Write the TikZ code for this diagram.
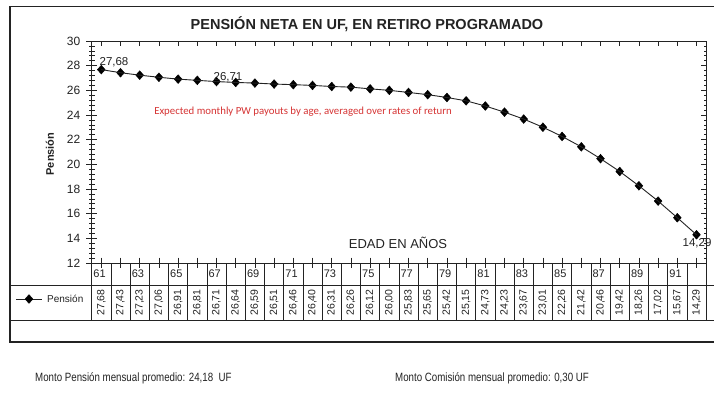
\documentclass[tikz,border=0pt]{standalone}
\usepackage{fontspec}
\setmainfont{Liberation Sans}
\newfontfamily\calibri{Carlito}
\usetikzlibrary{shapes.geometric}
\definecolor{redtxt}{RGB}{214,52,52}
\definecolor{ax}{RGB}{35,35,35}
\begin{document}
\begin{tikzpicture}[x=1pt,y=-1pt,
  mk/.style={diamond, fill=black, draw=black, inner sep=0pt, minimum width=8pt, minimum height=9pt},
  curve/.style={draw=ax, line width=0.9pt},
  axisline/.style={draw=ax, line width=0.9pt},
  tickline/.style={draw=ax, line width=0.7pt},
  tbl/.style={draw=ax, line width=0.7pt},
  framel/.style={draw=ax, line width=1.4pt},
  num/.style={font=\fontsize{12}{13}\selectfont, text=ax, inner sep=0pt},
  agelbl/.style={font=\fontsize{11}{12}\selectfont, text=ax, inner sep=0pt, anchor=west},
  val/.style={font=\fontsize{10.5}{11}\selectfont, text=ax, rotate=90, inner sep=0pt},
  dlbl/.style={font=\fontsize{11.5}{12}\selectfont, text=ax, inner sep=0pt},
  bottomtxt/.style={font=\fontsize{12}{13}\selectfont, text=ax, inner sep=0pt, anchor=west, xscale=0.81}
]
\useasboundingbox (0,0) rectangle (714,392);
\fill[white] (0,0) rectangle (714,392);

% frame
\draw[framel] (720,6.5) -- (10,6.5) -- (10,342) -- (720,342);

% title
\node[font=\bfseries\fontsize{14.5}{16}\selectfont, text=ax] (title) at (367,24) {PENSIÓN NETA EN UF, EN RETIRO PROGRAMADO};

% plot area box
\draw[axisline] (91.7,41) rectangle (706.1,263);

% left and right axis ticks
\foreach \k in {0,...,45}{
  \pgfmathsetmacro\ty{41+\k*0.4*12.333}
  \draw[tickline] (89,\ty) -- (94.5,\ty);
  \draw[tickline] (706.1,\ty) -- (703.5,\ty);
}
\foreach \k in {0,...,9}{
  \pgfmathsetmacro\ty{41+\k*2*12.333}
  \draw[tickline] (86,\ty) -- (97,\ty);
  \draw[tickline] (706.1,\ty) -- (700.5,\ty);
}
% y labels
\foreach \v in {12,14,...,30}{
  \node[num, anchor=east] (y\v) at (80.5,{41+(30-\v)*12.333}) {\v};
}
\node[font=\bfseries\fontsize{11}{12}\selectfont, text=ax, rotate=90] (ytitle) at (50,154) {Pensión};

% top and bottom ticks
\foreach \i in {1,...,32}{
  \pgfmathsetmacro\cx{91.7+19.2*(\i-0.5)}
  \draw[tickline] (\cx,41) -- (\cx,46);
  \draw[tickline] (\cx,257.5) -- (\cx,268);
}

% table lines
\foreach \j in {0,...,32}{
  \pgfmathsetmacro\bx{91.7+19.2*\j}
  \draw[tbl] (\bx,263) -- (\bx,320);
}
\draw[tbl] (10,285) -- (714,285);
\draw[tbl] (10,320) -- (714,320);

% age labels
\foreach \a in {61,63,...,91}{
  \pgfmathsetmacro\lx{91.7+19.2*(\a-61)+1.5}
  \node[agelbl] (age\a) at (\lx,274) {\a};
}

% data
\foreach \v/\s [count=\i] in {27.68/{27,68}, 27.43/{27,43}, 27.23/{27,23}, 27.06/{27,06}, 26.91/{26,91}, 26.81/{26,81}, 26.71/{26,71}, 26.64/{26,64}, 26.59/{26,59}, 26.51/{26,51}, 26.46/{26,46}, 26.40/{26,40}, 26.31/{26,31}, 26.26/{26,26}, 26.12/{26,12}, 26.00/{26,00}, 25.83/{25,83}, 25.65/{25,65}, 25.42/{25,42}, 25.15/{25,15}, 24.73/{24,73}, 24.23/{24,23}, 23.67/{23,67}, 23.01/{23,01}, 22.26/{22,26}, 21.42/{21,42}, 20.46/{20,46}, 19.42/{19,42}, 18.26/{18,26}, 17.02/{17,02}, 15.67/{15,67}, 14.29/{14,29}}{
  \pgfmathsetmacro\cx{91.7+19.2*(\i-0.5)}
  \pgfmathsetmacro\cy{41+(30-\v)*12.333}
  \node[mk] (p\i) at (\cx,\cy) {};
  \node[val] (v\i) at (\cx,302.5) {\s};
}
\foreach \i in {1,...,31}{
  \pgfmathtruncatemacro\j{\i+1}
  \draw[curve] (p\i.center) -- (p\j.center);
}

% data labels
\node[dlbl] (l1) at (114,62) {27,68};
\node[dlbl] (l7) at (228,77) {26,71};
\node[dlbl] (l32) at (697,243) {14,29};

% red annotation
\node[font=\calibri\fontsize{10.8}{12}\selectfont, text=redtxt, inner sep=0pt] (note) at (303,112) {Expected monthly PW payouts by age, averaged over rates of return};

% axis title
\node[font=\fontsize{13}{14}\selectfont, text=ax, inner sep=0pt] (xtitle) at (398,243) {EDAD EN AÑOS};

% legend
\coordinate (lga) at (16,299);
\coordinate (lgb) at (42,299);
\draw[curve] (lga) -- (lgb);
\node[mk] (lgm) at (29,299) {};
\node[font=\fontsize{10}{11}\selectfont, text=ax, inner sep=0pt, anchor=west] (lgt) at (47,299) {Pensión};

% bottom texts
\node[bottomtxt] (t1) at (35,378) {Monto Pensión mensual promedio: 24,18~ UF};
\node[bottomtxt] (t2) at (395,378) {Monto Comisión mensual promedio: 0,30 UF};
\end{tikzpicture}
\end{document}
